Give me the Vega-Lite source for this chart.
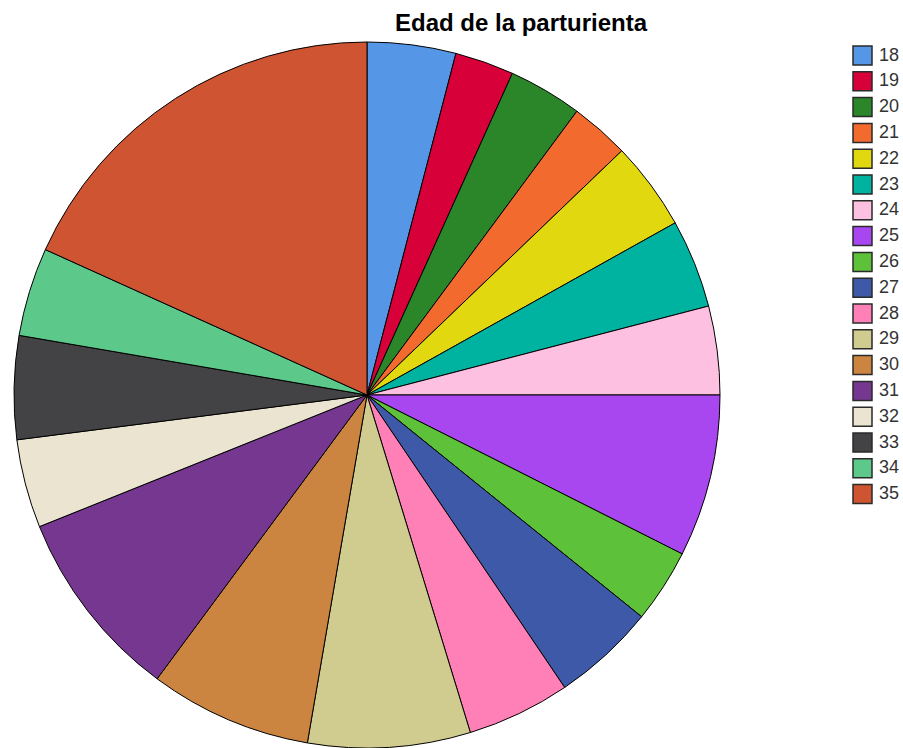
{
  "$schema": "https://vega.github.io/schema/vega-lite/v6.json",
  "autosize": {"type": "none"},
  "width": 734,
  "height": 706,
  "padding": {"left": 0, "top": 42, "right": 169, "bottom": 0},
  "background": "white",
  "view": {"stroke": null},
  "title": {
    "text": "Edad de la parturienta",
    "anchor": "start",
    "frame": "group",
    "dx": 395,
    "dy": 26,
    "offset": 11,
    "baseline": "alphabetic",
    "font": "Liberation Sans",
    "fontSize": 24,
    "fontWeight": "bold",
    "color": "#000000"
  },
  "data": {
    "values": [
      {"edad": "18", "n": 6},
      {"edad": "19", "n": 4},
      {"edad": "20", "n": 5},
      {"edad": "21", "n": 4},
      {"edad": "22", "n": 6},
      {"edad": "23", "n": 6},
      {"edad": "24", "n": 6},
      {"edad": "25", "n": 11},
      {"edad": "26", "n": 5},
      {"edad": "27", "n": 7},
      {"edad": "28", "n": 7},
      {"edad": "29", "n": 11},
      {"edad": "30", "n": 11},
      {"edad": "31", "n": 13},
      {"edad": "32", "n": 6},
      {"edad": "33", "n": 7},
      {"edad": "34", "n": 6},
      {"edad": "35", "n": 27}
    ]
  },
  "mark": {"type": "arc", "outerRadius": 353, "stroke": "#000000", "strokeWidth": 1},
  "encoding": {
    "theta": {"field": "n", "type": "quantitative", "stack": true},
    "order": {"field": "edad", "type": "ordinal", "sort": "ascending"},
    "color": {
      "field": "edad",
      "type": "nominal",
      "scale": {
        "domain": ["18","19","20","21","22","23","24","25","26","27","28","29","30","31","32","33","34","35"],
        "range": ["#5596E6","#D70038","#2A8629","#F26A2E","#E2D810","#00B2A0","#FDC0E0","#A846F0","#5DC239","#3D59A8","#FF80B6","#D0CB8E","#CC8540","#763790","#EBE4D0","#434345","#5CC98B","#CF5532"]
      },
      "legend": {
        "title": null,
        "orient": "none",
        "legendX": 852,
        "legendY": 3,
        "symbolType": "square",
        "symbolSize": 361,
        "symbolStrokeColor": "#2a2a2a",
        "symbolStrokeWidth": 1.5,
        "symbolOpacity": 1,
        "rowPadding": 0.8,
        "labelFont": "Liberation Sans",
        "labelFontSize": 18,
        "labelColor": "#333333",
        "labelOffset": 6
      }
    }
  }
}
